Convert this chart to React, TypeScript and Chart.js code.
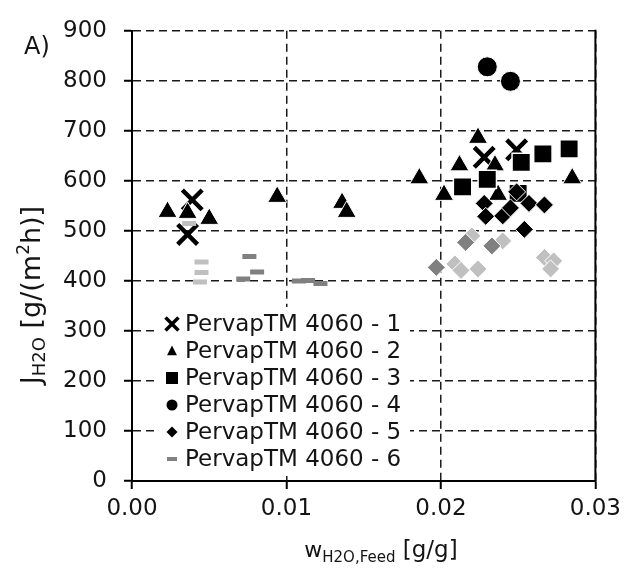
import React, { useEffect, useRef } from 'react';
import { Chart, registerables } from 'chart.js';

Chart.register(...registerables);

const FONT = "'DejaVu Sans', sans-serif";
const TEXT = '#141414';

const X_MIN = 0;
const X_MAX = 0.03;
const X_STEP = 0.01;
const Y_MIN = 0;
const Y_MAX = 900;
const Y_STEP = 100;

const seriesLabels = [
  'PervapTM 4060 - 1',
  'PervapTM 4060 - 2',
  'PervapTM 4060 - 3',
  'PervapTM 4060 - 4',
  'PervapTM 4060 - 5',
  'PervapTM 4060 - 6',
];

// Series 1 (X markers)
const s1X = [0.0039, 0.0036, 0.0228, 0.0249];
const s1Y = [562, 493, 647, 662];
// Series 2 (triangles)
const s2X = [0.0023, 0.0036, 0.005, 0.0094, 0.0136, 0.0139, 0.0186, 0.0202, 0.0212, 0.0224, 0.0235, 0.0237, 0.0285];
const s2Y = [538, 536, 524, 568, 556, 538, 605, 572, 631, 686, 631, 572, 605];
// Series 3 (squares)
const s3X = [0.0214, 0.023, 0.025, 0.0252, 0.0266, 0.0283];
const s3Y = [588, 603, 575, 637, 654, 664];
// Series 4 (circles)
const s4X = [0.023, 0.0245];
const s4Y = [828, 799];
// Series 5 (diamonds)
const s5X = [0.022, 0.024, 0.0209, 0.0213, 0.0224, 0.0267, 0.0273, 0.0271, 0.0197, 0.0216, 0.0233, 0.0228, 0.0229, 0.024, 0.0245, 0.0257, 0.0267, 0.0254, 0.0249];
const s5Y = [490, 480, 434, 421, 424, 447, 440, 424, 427, 477, 470, 555, 529, 530, 546, 555, 552, 503, 578];
const s5Shade = ['light', 'light', 'light', 'light', 'light', 'light', 'light', 'light', 'dark', 'dark', 'dark', 'black', 'black', 'black', 'black', 'black', 'black', 'black', 'black'];
// Series 6 (dashes)
const s6X = [0.0037, 0.0045, 0.0045, 0.0044, 0.0076, 0.0081, 0.0072, 0.0108, 0.0114, 0.0122];
const s6Y = [515, 438, 417, 398, 449, 418, 404, 400, 401, 395];
const s6Shade = ['light', 'light', 'light', 'light', 'dark', 'dark', 'dark', 'dark', 'dark', 'dark'];

const SHADES: Record<string, string> = { light: '#c0c0c0', dark: '#808080', black: '#000000' };

const pts = (xs: number[], ys: number[]) => xs.map((x, i) => ({ x, y: ys[i] }));

type Part = { t: string; s: number; dy: number; w?: number };

function drawRich(ctx: CanvasRenderingContext2D, parts: Part[], cx: number, cy: number, rotate: boolean) {
  ctx.save();
  ctx.translate(cx, cy);
  if (rotate) ctx.rotate(-Math.PI / 2);
  let total = 0;
  for (const p of parts) {
    ctx.font = `${p.s}px ${FONT}`;
    p.w = ctx.measureText(p.t).width;
    total += p.w;
  }
  let x = -total / 2;
  ctx.textAlign = 'left';
  ctx.textBaseline = 'alphabetic';
  ctx.fillStyle = TEXT;
  for (const p of parts) {
    ctx.font = `${p.s}px ${FONT}`;
    ctx.fillText(p.t, x, p.dy);
    x += p.w || 0;
  }
  ctx.restore();
}

function drawMarker(ctx: CanvasRenderingContext2D, style: string, x: number, y: number, r: number, color: string) {
  ctx.save();
  ctx.fillStyle = color;
  ctx.strokeStyle = color;
  ctx.beginPath();
  if (style === 'cross') {
    ctx.lineWidth = 3.5;
    ctx.moveTo(x - r, y - r);
    ctx.lineTo(x + r, y + r);
    ctx.moveTo(x + r, y - r);
    ctx.lineTo(x - r, y + r);
    ctx.stroke();
  } else if (style === 'triangle') {
    ctx.moveTo(x, y - r);
    ctx.lineTo(x + r * 0.9, y + r * 0.75);
    ctx.lineTo(x - r * 0.9, y + r * 0.75);
    ctx.closePath();
    ctx.fill();
  } else if (style === 'rect') {
    ctx.rect(x - r, y - r, 2 * r, 2 * r);
    ctx.fill();
  } else if (style === 'circle') {
    ctx.arc(x, y, r, 0, Math.PI * 2);
    ctx.fill();
  } else if (style === 'diamond') {
    ctx.moveTo(x, y - r);
    ctx.lineTo(x + r, y);
    ctx.lineTo(x, y + r);
    ctx.lineTo(x - r, y);
    ctx.closePath();
    ctx.fill();
  } else if (style === 'dash') {
    ctx.rect(x - r, y - 2, 2 * r, 4);
    ctx.fill();
  }
  ctx.restore();
}

const legendStyles = [
  { style: 'cross', r: 6.5, color: '#000' },
  { style: 'triangle', r: 5.5, color: '#000' },
  { style: 'rect', r: 6, color: '#000' },
  { style: 'circle', r: 5.5, color: '#000' },
  { style: 'diamond', r: 5.5, color: '#000' },
  { style: 'dash', r: 5, color: '#808080' },
];

const decorPlugin = {
  id: 'decor',
  afterDraw(chart: any) {
    const { ctx, chartArea } = chart;
    const { right, top, bottom } = chartArea;
    ctx.save();
    // solid right frame
    ctx.strokeStyle = '#000';
    ctx.lineWidth = 2;
    ctx.beginPath();
    ctx.moveTo(right, top - 1);
    ctx.lineTo(right, bottom);
    ctx.stroke();

    // legend
    ctx.fillStyle = '#ffffff';
    ctx.fillRect(155, 307, 255, 169);
    const rowY0 = 324;
    const step = 27;
    seriesLabels.forEach((lab, i) => {
      const y = rowY0 + i * step;
      const m = legendStyles[i];
      drawMarker(ctx, m.style, 172, y, m.r, m.color);
      ctx.fillStyle = TEXT;
      ctx.font = `23px ${FONT}`;
      ctx.textAlign = 'left';
      ctx.textBaseline = 'middle';
      ctx.fillText(lab, 185, y + 1);
    });

    // "A)"
    ctx.fillStyle = TEXT;
    ctx.font = `24px ${FONT}`;
    ctx.textAlign = 'left';
    ctx.textBaseline = 'alphabetic';
    ctx.fillText('A)', 24, 54);
    ctx.restore();

    // axis titles
    drawRich(ctx, [
      { t: 'J', s: 27, dy: 0 },
      { t: 'H2O', s: 18, dy: 5 },
      { t: ' [g/(m', s: 27, dy: 0 },
      { t: '2', s: 17, dy: -11 },
      { t: 'h)]', s: 27, dy: 0 },
    ], 40, 295, true);
    drawRich(ctx, [
      { t: 'w', s: 22, dy: 0 },
      { t: 'H2O,Feed', s: 15, dy: 5 },
      { t: ' [g/g]', s: 23, dy: 0 },
    ], 381, 557, false);
  },
};

export default function App() {
  const ref = useRef<HTMLCanvasElement | null>(null);

  useEffect(() => {
    if (!ref.current) return;
    const chart = new Chart(ref.current, {
      type: 'scatter',
      data: {
        datasets: [
          {
            label: seriesLabels[0],
            data: pts(s1X, s1Y),
            pointStyle: 'crossRot',
            pointRadius: 14,
            pointBorderWidth: 4.5,
            pointBorderColor: '#000',
            pointBackgroundColor: '#000',
            order: 6,
          },
          {
            label: seriesLabels[1],
            data: pts(s2X, s2Y),
            pointStyle: 'triangle',
            pointRadius: 11,
            pointBorderWidth: 1,
            pointBorderColor: '#fff',
            pointBackgroundColor: '#000',
            order: 5,
          },
          {
            label: seriesLabels[2],
            data: pts(s3X, s3Y),
            pointStyle: 'rect',
            pointRadius: 13,
            pointBorderWidth: 1.5,
            pointBorderColor: '#fff',
            pointBackgroundColor: '#000',
            order: 4,
          },
          {
            label: seriesLabels[3],
            data: pts(s4X, s4Y),
            pointStyle: 'circle',
            pointRadius: 10,
            pointBorderWidth: 1,
            pointBorderColor: '#fff',
            pointBackgroundColor: '#000',
            order: 3,
          },
          {
            label: seriesLabels[4],
            data: pts(s5X, s5Y),
            pointStyle: 'rectRot',
            pointRadius: 9,
            pointBorderWidth: 1,
            pointBorderColor: '#fff',
            pointBackgroundColor: s5Shade.map((s) => SHADES[s]),
            order: 2,
          },
          {
            label: seriesLabels[5],
            data: pts(s6X, s6Y),
            pointStyle: 'line',
            pointRadius: 7,
            pointBorderWidth: 5,
            pointBorderColor: s6Shade.map((s) => SHADES[s]),
            pointBackgroundColor: s6Shade.map((s) => SHADES[s]),
            order: 1,
          },
        ] as any,
      },
      options: {
        animation: false,
        responsive: false,
        events: [],
        layout: { padding: { left: 0, top: 23, right: 28, bottom: 0 } },
        plugins: {
          legend: { display: false },
          tooltip: { enabled: false },
        },
        scales: {
          x: {
            type: 'linear',
            min: X_MIN,
            max: X_MAX,
            afterFit: (s: any) => { s.height = 90; },
            ticks: {
              stepSize: X_STEP,
              padding: 6,
              color: TEXT,
              font: { family: FONT, size: 23 },
              callback: (v: any) => Number(v).toFixed(2),
            },
            grid: { color: '#1a1a1a', lineWidth: 1.5, tickLength: 8, tickColor: '#000', tickWidth: 2 },
            border: { display: true, color: '#000', width: 2, dash: [8, 5] },
          },
          y: {
            type: 'linear',
            min: Y_MIN,
            max: Y_MAX,
            afterFit: (s: any) => { s.width = 132; },
            ticks: {
              stepSize: Y_STEP,
              padding: 17,
              color: TEXT,
              font: { family: FONT, size: 23 },
            },
            grid: { color: '#1a1a1a', lineWidth: 1.5, tickLength: 8, tickColor: '#000', tickWidth: 2 },
            border: { display: true, color: '#000', width: 2, dash: [8, 5] },
          },
        },
      } as any,
      plugins: [decorPlugin],
    });
    return () => chart.destroy();
  }, []);

  return (
    <div style={{ position: 'fixed', left: 0, top: 0, width: 627, height: 571, background: '#fff' }}>
      <canvas ref={ref} width={627} height={571} style={{ width: 627, height: 571, display: 'block' }} />
    </div>
  );
}
